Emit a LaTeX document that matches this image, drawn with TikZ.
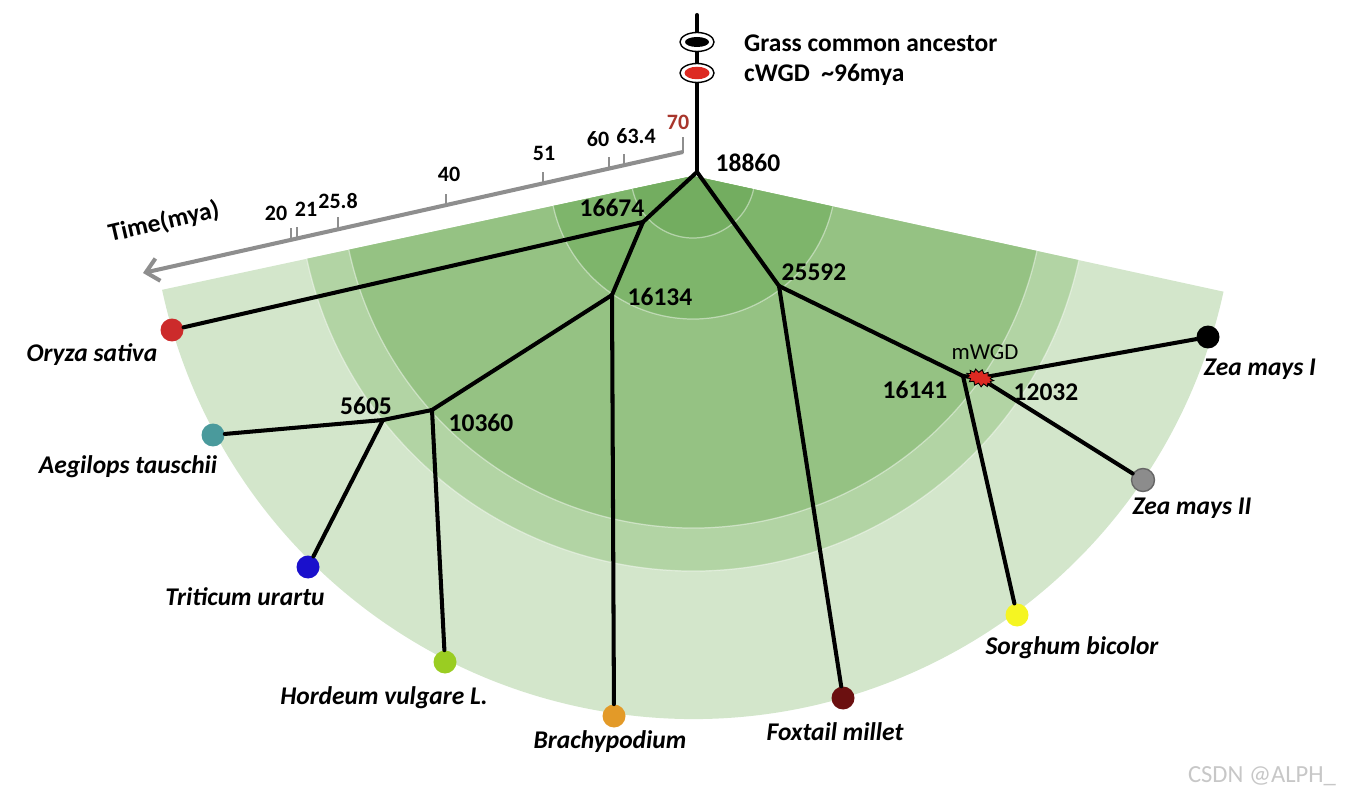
\documentclass[tikz,border=0pt]{standalone}
\usepackage{fontspec}
\setmainfont{Carlito}
\usepackage{tikz}
\usetikzlibrary{arrows.meta, shapes.geometric, shapes.symbols}
\definecolor{gOut}{HTML}{D3E6CB}
\definecolor{gMidL}{HTML}{B2D4A4}
\definecolor{gMid}{HTML}{95C283}
\definecolor{gDark}{HTML}{7EB56B}
\definecolor{gCore}{HTML}{73AD60}
\definecolor{axGray}{HTML}{8E8E8E}
\definecolor{tRed}{HTML}{A8362C}
\definecolor{cOryza}{HTML}{CC2B2B}
\definecolor{cAegil}{HTML}{4A9A9C}
\definecolor{cTrit}{HTML}{1A10CC}
\definecolor{cHord}{HTML}{9ACD22}
\definecolor{cBrach}{HTML}{E39A28}
\definecolor{cFox}{HTML}{6B1010}
\definecolor{cSorg}{HTML}{F5F522}
\definecolor{cZeaII}{HTML}{8C8C8C}
\definecolor{wgdRed}{HTML}{DD2A22}

\begin{document}
\begin{tikzpicture}[x=0.02cm, y=-0.02cm, >={Straight Barb[length=7pt,width=13pt]},
          br/.style={line width=2.3pt, line cap=round, line join=round},
          leaf/.style={circle, inner sep=0pt, minimum size=0.46cm},
          num/.style={font=\bfseries\fontsize{14.5}{16}\selectfont},
          sp/.style={font=\bfseries\itshape\fontsize{14.5}{16}\selectfont},
          tk/.style={font=\bfseries\fontsize{12.5}{14}\selectfont},
          ringline/.style={draw=white, draw opacity=0.45, line width=0.7pt},
          axis/.style={draw=axGray, line width=2.3pt},
          tick/.style={draw=axGray, line width=1.2pt}]
        \useasboundingbox (0,0) rectangle (1352,800);
        \coordinate (c) at (693,176);
        \fill[gOut] (c) -- ++(12.3:543) arc[start angle=12.3, end angle=167.9, radius=543] -- cycle;
        \fill[gMidL] (c) -- ++(12.3:395) arc[start angle=12.3, end angle=167.9, radius=395] -- cycle;
        \fill[gMid] (c) -- ++(12.3:352) arc[start angle=12.3, end angle=167.9, radius=352] -- cycle;
        \fill[gDark] (c) -- ++(12.3:143) arc[start angle=12.3, end angle=167.9, radius=143] -- cycle;
        \fill[gCore] (c) -- ++(12.3:62) arc[start angle=12.3, end angle=167.9, radius=62] -- cycle;
        \draw[ringline] (c) ++(12.3:395) arc[start angle=12.3, end angle=167.9, radius=395];
        \draw[ringline] (c) ++(12.3:352) arc[start angle=12.3, end angle=167.9, radius=352];
        \draw[ringline] (c) ++(12.3:143) arc[start angle=12.3, end angle=167.9, radius=143];
        \draw[ringline] (c) ++(12.3:62) arc[start angle=12.3, end angle=167.9, radius=62];

        \coordinate (t70) at (683,152);
        \coordinate (tEnd) at (143,273);
        \draw[->, axis] (t70) -- (tEnd);
        \draw[tick] (683,153) -- (683,137);
        \draw[tick] (624,165) -- ++(0,-11);
        \draw[tick] (609,168) -- ++(0,-11);
        \draw[tick] (543,183) -- ++(0,-11);
        \draw[tick] (446,205) -- ++(0,-11);
        \draw[tick] (338,228) -- ++(0,-11);
        \draw[tick] (297,238) -- ++(0,-11);
        \draw[tick] (291,239) -- ++(0,-11);
        \node[tk, text=tRed] (l70) at (678,122) {70};
        \node[tk] (l634) at (636,136) {63.4};
        \node[tk] (l60) at (598,139) {60};
        \node[tk] (l51) at (544,153) {51};
        \node[tk] (l40) at (449,174) {40};
        \node[tk] (l258) at (338,201) {25.8};
        \node[tk] (l21) at (306,209) {21};
        \node[tk] (l20) at (276,213) {20};
        \node[num, rotate=13, inner sep=1pt] (ltime) at (164,222) {Time(mya)};

        \coordinate (top) at (697,15);
        \coordinate (n18860) at (697,172);
        \coordinate (n16674) at (643,222);
        \coordinate (n16134) at (612,295);
        \coordinate (n25592) at (779,286);
        \coordinate (n10360) at (432,410);
        \coordinate (n5605) at (383,420);
        \coordinate (n16141) at (963,376);
        \coordinate (mwgd) at (980,378);
        \node[leaf, fill=cOryza] (oryza) at (172,330) {};
        \node[leaf, fill=cAegil] (aegil) at (213,435) {};
        \node[leaf, fill=cTrit] (trit) at (308,567) {};
        \node[leaf, fill=cHord] (hord) at (445,662) {};
        \node[leaf, fill=cBrach] (brach) at (614,716) {};
        \node[leaf, fill=cFox] (fox) at (843,698) {};
        \node[leaf, fill=cSorg] (sorg) at (1017,615) {};
        \node[leaf, fill=cZeaII, draw=black!60, line width=0.8pt] (zeaII) at (1143,480) {};
        \node[leaf, fill=black] (zeaI) at (1208,337) {};

        \draw[br] (top) -- (n18860);
        \draw[br] (n18860) -- (n16674);
        \draw[br] (n18860) -- (n25592);
        \draw[br] (n16674) -- (oryza);
        \draw[br] (n16674) -- (n16134);
        \draw[br] (n16134) -- (n10360);
        \draw[br] (n16134) -- (brach);
        \draw[br] (n10360) -- (n5605);
        \draw[br] (n10360) -- (hord);
        \draw[br] (n5605) -- (aegil);
        \draw[br] (n5605) -- (trit);
        \draw[br] (n25592) -- (fox);
        \draw[br] (n25592) -- (n16141);
        \draw[br] (n16141) -- (sorg);
        \draw[br] (n16141) -- (mwgd);
        \draw[br] (mwgd) -- (zeaI);
        \draw[br] (mwgd) -- (zeaII);
        \node[starburst, starburst points=13, starburst point height=1.8pt, random starburst=0,
          fill=wgdRed, draw=black, line width=0.5pt, minimum width=0.56cm, minimum height=0.34cm,
          inner sep=0pt, rotate=-15] (wgd) at (mwgd) {};

        \node[ellipse, draw=black, fill=white, line width=0.8pt, minimum width=0.68cm,
          minimum height=0.38cm, inner sep=0pt] (anc) at (697,42) {};
        \node[ellipse, fill=black, minimum width=0.48cm, minimum height=0.2cm, inner sep=0pt] (ancIn) at (697,42) {};
        \node[ellipse, draw=black, fill=white, line width=0.8pt, minimum width=0.68cm,
          minimum height=0.38cm, inner sep=0pt] (cwgd) at (697,73) {};
        \node[ellipse, fill=wgdRed, minimum width=0.5cm, minimum height=0.25cm, inner sep=0pt] (cwgdIn) at (697,73) {};
        \node[num, anchor=west] (lanc) at (738,43) {Grass common ancestor};
        \node[num, anchor=west] (lcwgd) at (738,75) {cWGD\ \ \textasciitilde96mya};

        \node[num] (l18860) at (748,163) {18860};
        \node[num] (l16674) at (612,208) {16674};
        \node[num] (l16134) at (660,297) {16134};
        \node[num] (l25592) at (814,272) {25592};
        \node[num] (l10360) at (481,423) {10360};
        \node[num] (l5605) at (366,406) {5605};
        \node[num] (l16141) at (915,390) {16141};
        \node[num] (l12032) at (1046,392) {12032};
        \node[font=\fontsize{13}{14}\selectfont] (lmwgd) at (985,352) {mWGD};

        \node[sp] (loryza) at (92,355) {Oryza sativa};
        \node[sp] (laegil) at (128,467) {Aegilops tauschii};
        \node[sp] (ltrit) at (245,597) {Triticum urartu};
        \node[sp] (lhord) at (384,698) {Hordeum vulgare L.};
        \node[sp] (lbrach) at (610,742) {Brachypodium};
        \node[sp] (lfox) at (835,732) {Foxtail millet};
        \node[sp] (lsorg) at (1072,648) {Sorghum bicolor};
        \node[sp] (lzeaII) at (1192,508) {Zea mays II};
        \node[sp] (lzeaI) at (1260,369) {Zea mays I};
        \node[text=black!22, font=\fontsize{14}{16}\selectfont] (wm) at (1262,776) {CSDN @ALPH\_};
      \end{tikzpicture}
\end{document}
